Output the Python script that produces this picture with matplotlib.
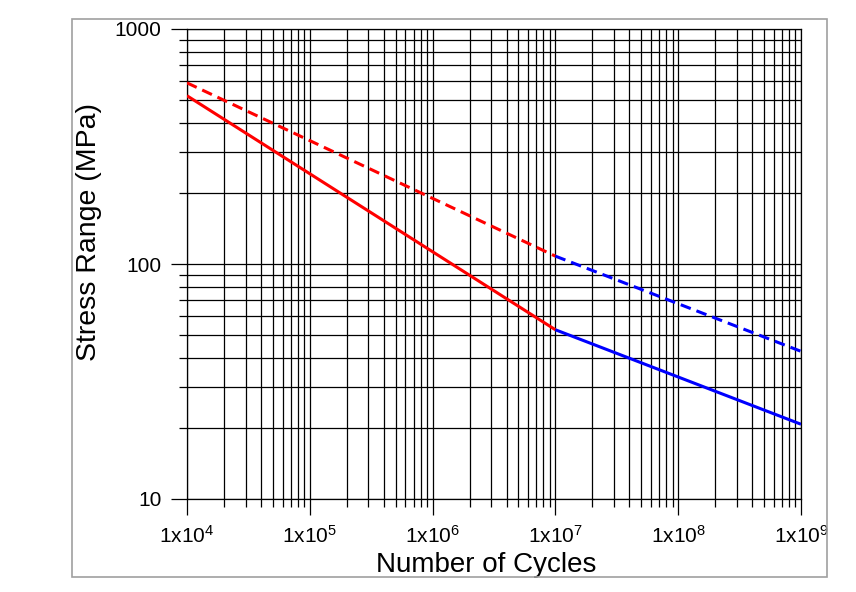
import matplotlib
matplotlib.use("Agg")
import matplotlib.pyplot as plt
from matplotlib.patches import Rectangle
from matplotlib.ticker import FixedLocator, LogLocator, NullFormatter

# --- data ---
n_low = [1e4, 1e7]
n_high = [1e7, 1e9]
s_solid_low = [520, 52.5]     # red, solid
s_solid_high = [52.5, 20.8]   # blue, solid
s_dash_low = [590, 108]       # red, dashed
s_dash_high = [108, 42.5]     # blue, dashed

x_ticks = [1e4, 1e5, 1e6, 1e7, 1e8, 1e9]
x_labels = [r'1x10$^{4}$', r'1x10$^{5}$', r'1x10$^{6}$',
            r'1x10$^{7}$', r'1x10$^{8}$', r'1x10$^{9}$']
y_ticks = [10, 100, 1000]
y_labels = ['10', '100', '1000']

plt.rcParams['font.family'] = ['Liberation Sans', 'DejaVu Sans']
plt.rcParams['mathtext.fontset'] = 'custom'
plt.rcParams['mathtext.rm'] = 'Liberation Sans'
plt.rcParams['mathtext.it'] = 'Liberation Sans'
plt.rcParams['mathtext.bf'] = 'Liberation Sans'

W, H = 856, 592
fig = plt.figure(figsize=(W / 100, H / 100), dpi=100)
ax = fig.add_axes([187 / W, 1 - 499 / H, 614 / W, 470 / H])

ax.set_xscale('log')
ax.set_yscale('log')
ax.set_xlim(1e4, 1e9)
ax.set_ylim(10, 1000)

ax.plot(n_low, s_solid_low, color='#ff0000', lw=2.2, solid_capstyle='butt', zorder=3)
ax.plot(n_high, s_solid_high, color='#0000ff', lw=2.2, solid_capstyle='butt', zorder=3)
ax.plot(n_low, s_dash_low, color='#ff0000', lw=2.2, linestyle=(0, (3.5, 2.0)), zorder=3)
ax.plot(n_high, s_dash_high, color='#0000ff', lw=2.2, linestyle=(0, (3.5, 2.0)), zorder=3)

ax.xaxis.set_major_locator(FixedLocator(x_ticks))
ax.set_xticklabels(x_labels)
ax.xaxis.set_minor_locator(LogLocator(base=10, subs=range(2, 10), numticks=20))
ax.xaxis.set_minor_formatter(NullFormatter())
ax.yaxis.set_major_locator(FixedLocator(y_ticks))
ax.set_yticklabels(y_labels)
ax.yaxis.set_minor_locator(LogLocator(base=10, subs=range(2, 10), numticks=20))
ax.yaxis.set_minor_formatter(NullFormatter())

ax.tick_params(which='major', length=11.5, width=0.9, direction='out', pad=7, labelsize=15)
ax.tick_params(which='minor', length=5.8, width=0.9, direction='out')
ax.grid(True, which='both', color='black', lw=0.9)

for sp in ax.spines.values():
    sp.set_linewidth(0.9)
    sp.set_color('black')

ax.set_xlabel('Number of Cycles', fontsize=20, va='top', ha='center')
ax.xaxis.set_label_coords(0.487, -0.112)
ax.set_ylabel('Stress Range (MPa)', fontsize=20.5)
ax.yaxis.set_label_coords(-0.138, 0.568)

# grey frame round the whole chart
fig.patches.append(Rectangle((72 / W, 1 - 577 / H), (827 - 72) / W, (577 - 19) / H,
                             transform=fig.transFigure, fill=False,
                             edgecolor='#a0a0a0', lw=1.2, zorder=10))

fig.savefig('out.png', dpi=100)
